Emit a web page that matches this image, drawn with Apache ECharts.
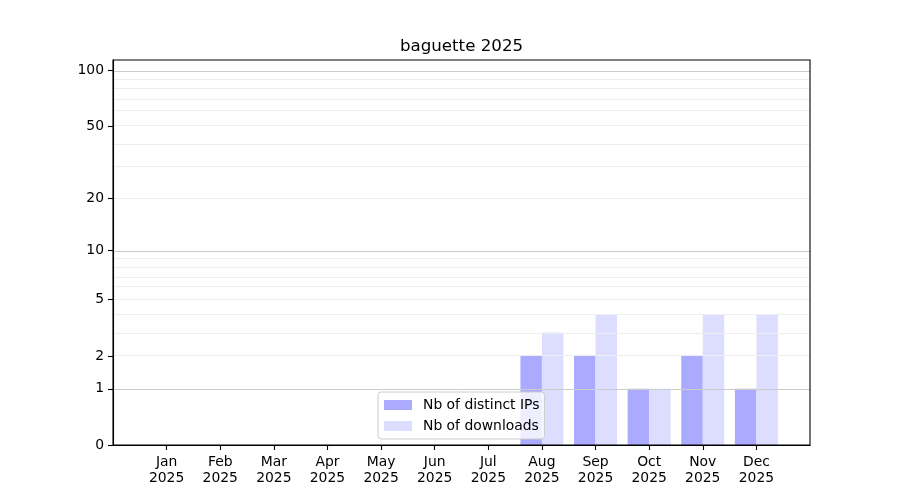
<!DOCTYPE html>
<html>
<head>
<meta charset="utf-8">
<script src="https://cdn.jsdelivr.net/npm/echarts@6/dist/echarts.min.js"></script>
<style>html,body{margin:0;padding:0;background:#fff}#c{width:900px;height:500px}</style>
</head>
<body>
<div id="c"></div>
<script>
const months = ['Jan','Feb','Mar','Apr','May','Jun','Jul','Aug','Sep','Oct','Nov','Dec'];
const year = '2025';
const ips = [0,0,0,0,0,0,0,2,2,1,2,1];
const downloads = [0,0,0,0,0,0,0,3,4,1,4,4];
const yTicks = [0,1,2,5,10,20,50,100];
const majorGrid = [1,10,100];
const minorGrid = [2,3,4,5,6,7,8,9,20,30,40,50,60,70,80,90];
const yMaxRaw = 114.2;

const tf = v => Math.log10(1 + v);
const cats = [''].concat(months.map(m => m + '\n' + year)).concat(['']);
const pad = arr => [null].concat(arr.map(tf)).concat([null]);

const font = 'DejaVu Sans';
const chart = echarts.init(document.getElementById('c'), null, {renderer: 'canvas'});
const gridLines = majorGrid.map(v => ({yAxis: tf(v), lineStyle: {color: '#cccccc', width: 1, type: 'solid'}}))
  .concat(minorGrid.map(v => ({yAxis: tf(v), lineStyle: {color: '#eeeeee', width: 1, type: 'solid'}})));

chart.setOption({
  animation: false,
  title: {
    text: 'baguette 2025', left: 461.5, top: 38, textAlign: 'center', padding: 0,
    textStyle: {fontFamily: font, fontSize: 16.67, fontWeight: 'normal', color: '#000'}
  },
  grid: {left: 113, right: 90, top: 60, bottom: 55, show: true, z: 20, borderColor: '#000', borderWidth: 1.1, backgroundColor: 'transparent'},
  legend: {
    orient: 'vertical', left: 378, top: 392, padding: [6, 5, 6, 6], z: 30,
    itemWidth: 28, itemHeight: 10, itemGap: 7,
    backgroundColor: 'rgba(255,255,255,0.8)', borderColor: '#cccccc', borderWidth: 1, borderRadius: 3,
    textStyle: {fontFamily: font, fontSize: 13.9, color: '#000', padding: [0, 0, 0, 6]},
    data: ['Nb of distinct IPs', 'Nb of downloads'],
    icon: 'rect'
  },
  xAxis: {
    type: 'category', data: cats, boundaryGap: false, z: 20,
    axisLine: {show: true, lineStyle: {color: '#000', width: 1.1}},
    axisTick: {show: true, length: 5, lineStyle: {color: '#000', width: 1.1}, interval: (i, v) => v !== '', alignWithLabel: true},
    axisLabel: {interval: 0, margin: 9, fontFamily: font, fontSize: 13.9, color: '#000', lineHeight: 16},
    splitLine: {show: false}
  },
  yAxis: {
    type: 'value', min: 0, max: tf(yMaxRaw), z: 20,
    axisLine: {show: true, lineStyle: {color: '#000', width: 1.1}},
    axisTick: {show: true, length: 5, lineStyle: {color: '#000', width: 1.1}, customValues: yTicks.map(tf)},
    axisLabel: {
      fontFamily: font, fontSize: 13.9, color: '#000', margin: 9,
      customValues: yTicks.map(tf),
      formatter: v => String(Math.round(Math.pow(10, v) - 1))
    },
    splitLine: {show: false}
  },
  series: [
    {
      name: 'Nb of distinct IPs', type: 'bar', data: pad(ips), barWidth: 21.5, barGap: '0%',
      itemStyle: {color: '#aaaaff'},
      markLine: {silent: true, symbol: 'none', z: 5, label: {show: false}, data: gridLines}
    },
    {
      name: 'Nb of downloads', type: 'bar', data: pad(downloads), barWidth: 21.5, barGap: '0%',
      itemStyle: {color: '#ddddff'}
    }
  ]
});
</script>
</body>
</html>
